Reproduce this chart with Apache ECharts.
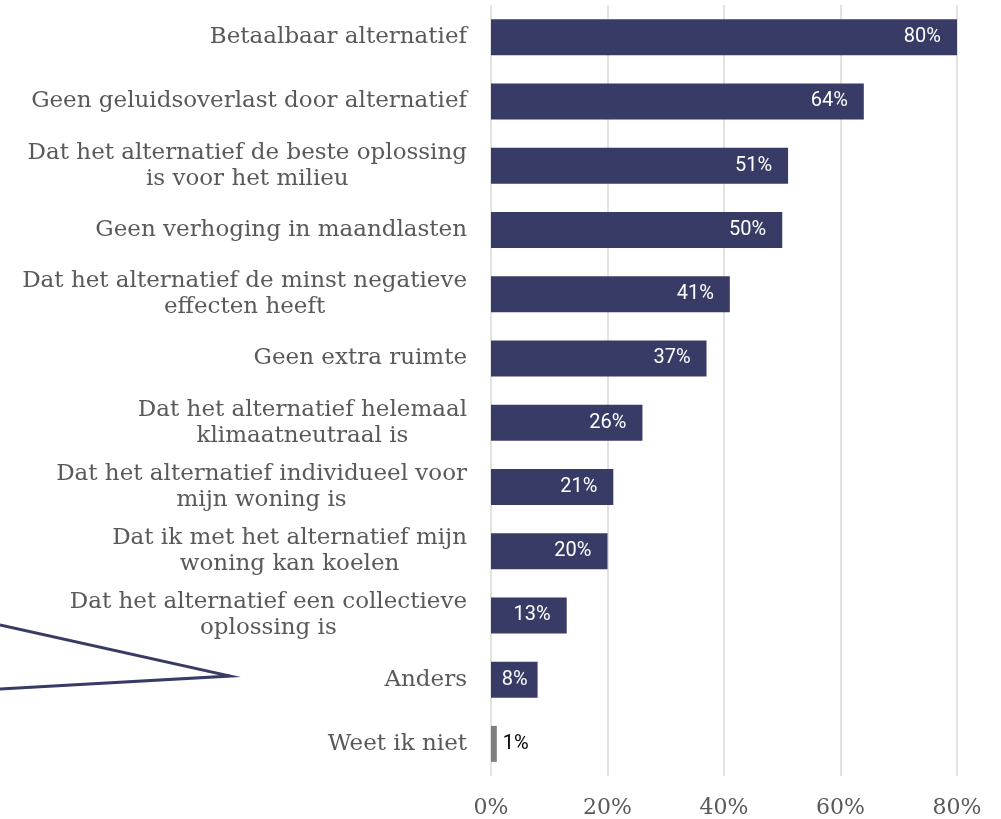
<!DOCTYPE html>
<html>
<head>
<meta charset="utf-8">
<script src="https://cdn.jsdelivr.net/npm/echarts@6/dist/echarts.min.js"></script>
<style>
  html, body { margin: 0; padding: 0; background: #fff; }
  #main { width: 1001px; height: 819px; }
</style>
</head>
<body>
<div id="main"></div>
<script>
const categories = [
  'Betaalbaar alternatief',
  'Geen geluidsoverlast door alternatief',
  'Dat het alternatief de beste oplossing\nis voor het milieu',
  'Geen verhoging in maandlasten',
  'Dat het alternatief de minst negatieve\neffecten heeft',
  'Geen extra ruimte',
  'Dat het alternatief helemaal\nklimaatneutraal is',
  'Dat het alternatief individueel voor\nmijn woning is',
  'Dat ik met het alternatief mijn\nwoning kan koelen',
  'Dat het alternatief een collectieve\noplossing is',
  'Anders',
  'Weet ik niet'
]
const values = [80, 64, 51, 50, 41, 37, 26, 21, 20, 13, 8, 1]
const xTicks = [0, 20, 40, 60, 80]

const navy = '#393b67'
const grey = '#7f7f7f'

const chart = echarts.init(document.getElementById('main'))

// last bar (weet ik niet) is grey with its label outside
const barData = values.map((v, i) => {
  const last = i === values.length - 1
  return {
    value: v,
    itemStyle: { color: last ? grey : navy },
    label: last
      ? { position: 'right', distance: 6, color: '#000' }
      : { position: 'insideRight', distance: v < 10 ? 10 : 16, color: '#fff' }
  }
})

chart.setOption({
  animation: false,
  grid: {
    left: 491,
    right: 44,
    top: 5,
    bottom: 42
  },
  xAxis: {
    type: 'value',
    min: xTicks[0],
    max: xTicks[xTicks.length - 1],
    interval: 20,
    axisLine: { show: false },
    axisTick: { show: false },
    splitLine: {
      show: true,
      lineStyle: { color: '#d9d9d9', width: 1.5 }
    },
    axisLabel: {
      formatter: '{value}%',
      fontFamily: 'DejaVu Serif',
      fontSize: 22,
      color: '#595959',
      margin: 21
    }
  },
  yAxis: {
    type: 'category',
    inverse: true,
    data: categories,
    axisLine: { show: false },
    axisTick: { show: false },
    axisLabel: {
      margin: 24,
      formatter: function (val) {
        return val.split('\n').map(s => '{c|' + s + '}').join('\n')
      },
      rich: {
        c: {
          align: 'center',
          fontFamily: 'DejaVu Serif',
          fontSize: 23,
          lineHeight: 26,
          color: '#595959'
        }
      }
    }
  },
  series: [{
    type: 'bar',
    data: barData,
    barWidth: 36,
    label: {
      show: true,
      formatter: '{c}%',
      fontFamily: 'Roboto',
      fontSize: 20
    }
  }],
  graphic: [{
    type: 'polyline',
    shape: {
      points: [[0, 625], [230, 676], [0, 689]]
    },
    style: {
      stroke: navy,
      lineWidth: 3,
      fill: null
    }
  }]
})
</script>
</body>
</html>
